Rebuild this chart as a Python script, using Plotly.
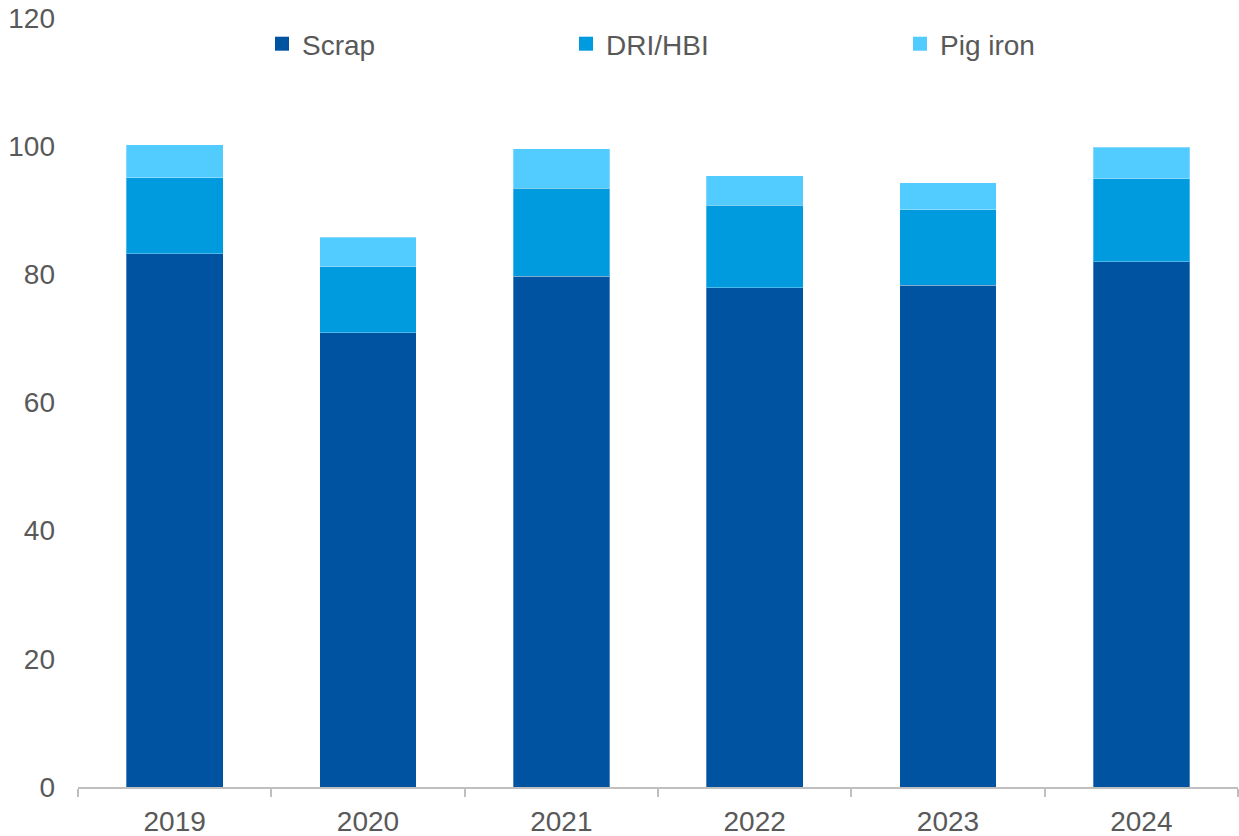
import plotly.graph_objects as go

years = ["2019", "2020", "2021", "2022", "2023", "2024"]
scrap = [83.2, 70.9, 79.7, 77.9, 78.3, 82.0]
dri_hbi = [11.9, 10.3, 13.7, 12.9, 11.8, 12.9]
pig_iron = [5.1, 4.6, 6.2, 4.6, 4.2, 4.9]

y_ticks = [0, 20, 40, 60, 80, 100, 120]

FONT = "Liberation Sans, Arial, sans-serif"
GREY = "#595959"
AXIS_GREY = "#BFBFBF"
W, H = 1239, 836

series = [
    ("Scrap", scrap, "#0053A0", "legend", 262),
    ("DRI/HBI", dri_hbi, "#009BDE", "legend2", 566),
    ("Pig iron", pig_iron, "#52CBFF", "legend3", 900),
]

fig = go.Figure()
for name, vals, color, leg, _ in series:
    fig.add_trace(go.Bar(
        x=years, y=vals, name=name, showlegend=False,
        marker=dict(color=color, line=dict(color="rgba(255,255,255,0.3)", width=1)),
    ))
    # square legend swatch for the series
    fig.add_trace(go.Scatter(
        x=[None], y=[None], name=name, legend=leg, mode="markers",
        marker=dict(symbol="square", size=14, color=color),
    ))

legend_style = dict(
    orientation="h", xref="container", yref="container",
    y=1 - 44 / H, yanchor="middle", xanchor="left",
    font=dict(family=FONT, size=28, color=GREY),
    bgcolor="rgba(0,0,0,0)", itemwidth=30,
)
legends = {}
for _, _, _, leg, lx in series:
    legends[leg] = dict(legend_style, x=lx / W)

fig.update_layout(
    width=W, height=H,
    barmode="stack", bargap=0.5,
    margin=dict(l=78, r=1, t=18, b=48.5, autoexpand=False),
    paper_bgcolor="white", plot_bgcolor="white",
    font=dict(family=FONT, size=28, color=GREY),
    showlegend=True,
    **legends,
)
fig.update_xaxes(
    type="category", showgrid=False,
    showline=True, linecolor=AXIS_GREY, linewidth=1.5,
    ticks="outside", tickson="boundaries", ticklen=8, tickcolor=AXIS_GREY, tickwidth=1.5,
    ticklabelstandoff=9,
    tickfont=dict(family=FONT, size=28, color=GREY),
)
fig.update_yaxes(
    range=[0, 120], tickvals=y_ticks, showgrid=False, zeroline=False,
    showline=False, ticks="", ticklabelstandoff=22,
    tickfont=dict(family=FONT, size=28, color=GREY),
)

fig.write_html("out.html")
